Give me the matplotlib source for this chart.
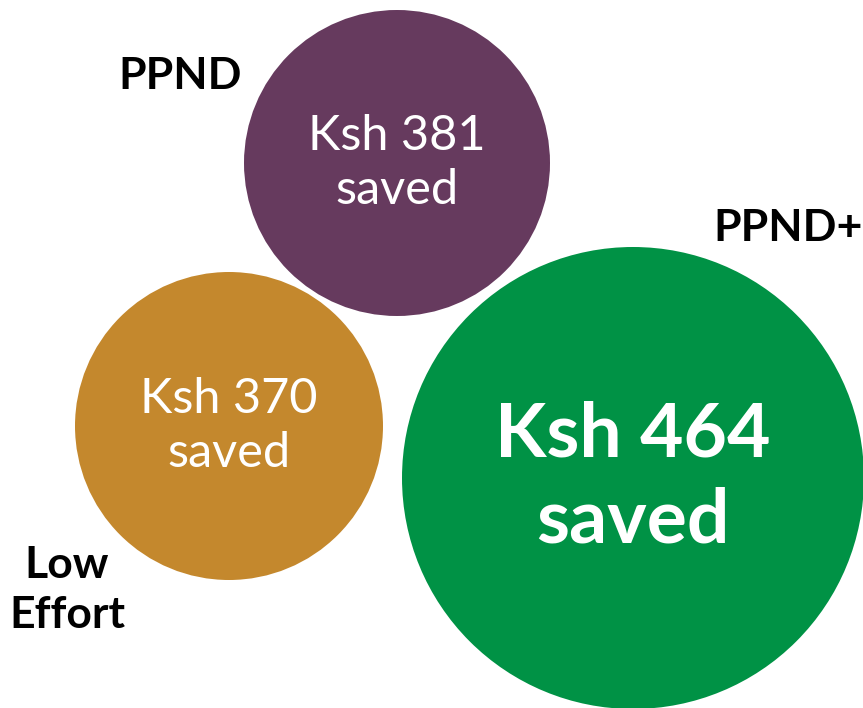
import matplotlib
matplotlib.use("Agg")
import matplotlib.pyplot as plt
from matplotlib.patches import Circle

# data
groups = ['PPND', 'Low\nEffort', 'PPND+']
savings = [381, 370, 464]
colors = ['#663A5E', '#C4882D', '#009245']

# layout (pixel coords, y down)
centers = [(397, 163), (229, 426), (633, 478)]
radii = [153, 154, 231]
label_pos = [(180, 76), (67, 590), (788, 228)]
value_size = [35, 35, 54]
value_weight = ['normal', 'normal', 'bold']
value_spacing = [1.3, 1.3, 1.3]

fig = plt.figure(figsize=(8.63, 7.08), dpi=100)
ax = fig.add_axes([0, 0, 1, 1])
ax.set_xlim(0, 863)
ax.set_ylim(708, 0)
ax.set_aspect('equal')
ax.axis('off')

for g, v, c, (cx, cy), r, (lx, ly), fs, fw, ls in zip(groups, savings, colors, centers, radii,
                                                      label_pos, value_size, value_weight,
                                                      value_spacing):
    ax.add_patch(Circle((cx, cy), r, color=c, lw=0))
    ax.text(cx, cy, 'Ksh %d\nsaved' % v, color='white', fontsize=fs, fontweight=fw,
            family='Lato', ha='center', va='center', linespacing=ls)
    ax.text(lx, ly, g, color='black', fontsize=32, fontweight='bold', family='Lato',
            ha='center', va='center', linespacing=1.3)

plt.savefig('out.png', dpi=100)
